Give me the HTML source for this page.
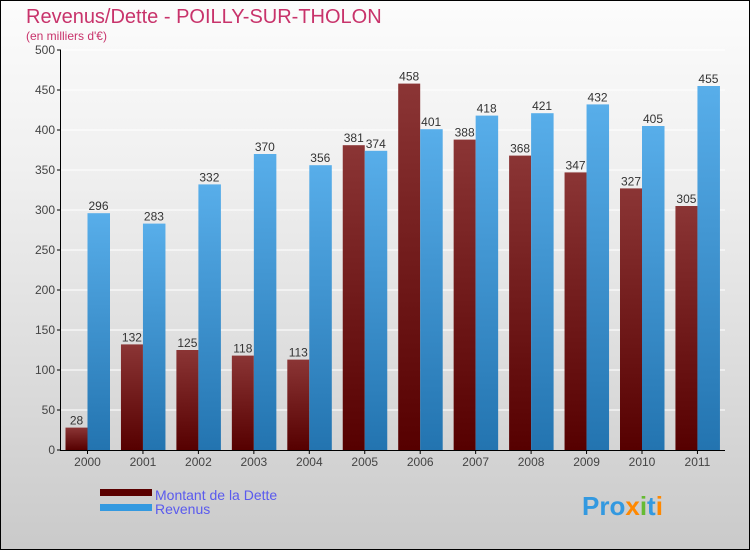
<!DOCTYPE html>
<html><head><meta charset="utf-8"><style>
body{margin:0;width:750px;height:550px;overflow:hidden;font-family:"Liberation Sans",sans-serif}
#c{position:absolute;left:0;top:0;width:748px;height:548px;border:1px solid #000;background:linear-gradient(#fcfcfc,#f0f0f0 30%,#d8d8d8 75%,#cacaca)}
</style></head><body>
<div id="c">
<svg id="s" width="750" height="550" style="position:absolute;left:-1px;top:-1px">
<defs>
<linearGradient id="gd" x1="0" y1="0" x2="0" y2="1"><stop offset="0" stop-color="#8b3535"/><stop offset="1" stop-color="#560000"/></linearGradient>
<linearGradient id="gr" x1="0" y1="0" x2="0" y2="1"><stop offset="0" stop-color="#58aeea"/><stop offset="1" stop-color="#2374b0"/></linearGradient>
</defs>
<text x="26" y="23" font-size="20" fill="#c8336b">Revenus/Dette - POILLY-SUR-THOLON</text>
<text x="26" y="40" font-size="12" fill="#c8336b">(en milliers d'€)</text>
<rect x="100" y="489" width="52" height="7" fill="#5a0000"/>
<rect x="100" y="504" width="52" height="7" fill="#3399e0"/>
<text x="155" y="500" font-size="14" fill="#5a5aee">Montant de la Dette</text>
<text x="155" y="514" font-size="14" fill="#5a5aee">Revenus</text>
<text x="582" y="515" font-size="26" font-weight="bold" fill="#3399e0">Pro<tspan fill="#ff8800">x</tspan><tspan fill="#66bb33">i</tspan>t<tspan fill="#ff8800">i</tspan></text>
<g id="g"></g>
</svg></div>
<script>
const years=["2000","2001","2002","2003","2004","2005","2006","2007","2008","2009","2010","2011"];
const dette=[28,132,125,118,113,381,458,388,368,347,327,305];
const revenus=[296,283,332,370,356,374,401,418,421,432,405,455];
const ticks=[0,50,100,150,200,250,300,350,400,450,500];
const NS="http://www.w3.org/2000/svg",g=document.getElementById('g');
const y=v=>450-v*0.8, gx=i=>87.5+i*55.45;
function el(t,a){const e=document.createElementNS(NS,t);for(const k in a)e.setAttribute(k,a[k]);g.appendChild(e);return e;}
ticks.forEach(t=>{
 if(t>0){const l=el('line',{x1:60,x2:725,y1:y(t),y2:y(t),stroke:'#fff','stroke-width':1});
 
 }
 const k=el('line',{x1:57,x2:61,y1:y(t),y2:y(t),stroke:'#000'});
 
 
 const tx=el('text',{x:55,y:y(t)+4,'text-anchor':'end','font-size':12,fill:'#444'});tx.textContent=t;
 
 
});
years.forEach((yr,i)=>{
 const c=gx(i);
 const a=el('rect',{x:c-22,y:y(dette[i]),width:22,height:dette[i]*0.8,fill:'url(#gd)'});
 
 
 const b=el('rect',{x:c,y:y(revenus[i]),width:22.5,height:revenus[i]*0.8,fill:'url(#gr)'});
 
 
 const t1=el('text',{x:c-11,y:y(dette[i])-3,'text-anchor':'middle','font-size':12,fill:'#333'});t1.textContent=dette[i];
 
 
 const t2=el('text',{x:c+11,y:y(revenus[i])-3,'text-anchor':'middle','font-size':12,fill:'#333'});t2.textContent=revenus[i];
 
 
 const tk=el('line',{x1:c,x2:c,y1:450,y2:454,stroke:'#000'});
 
 
 const xl=el('text',{x:c,y:466,'text-anchor':'middle','font-size':12,fill:'#444'});xl.textContent=yr;
 
 
});
const ya=el('line',{x1:60.5,x2:60.5,y1:50,y2:450,stroke:'#000'});


const xa=el('line',{x1:60,x2:725,y1:450.5,y2:450.5,stroke:'#000'});


</script>
</body></html>
